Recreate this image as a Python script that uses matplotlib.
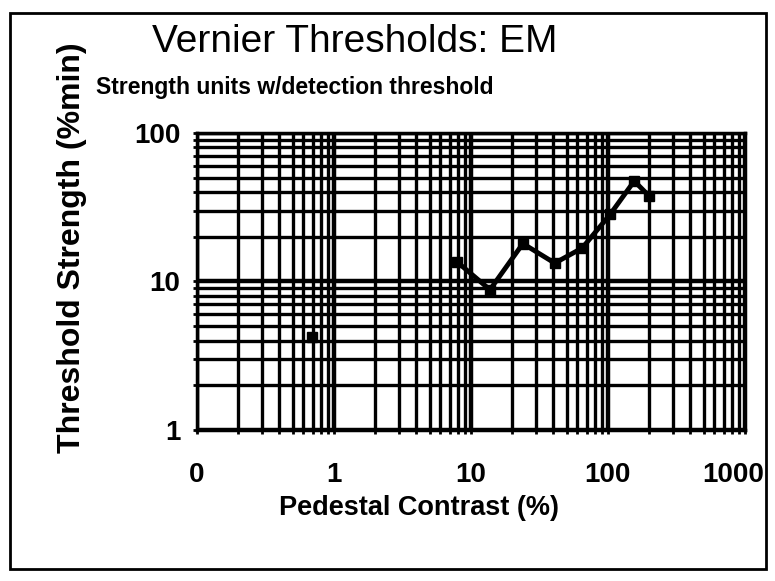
import matplotlib
matplotlib.use("Agg")
import matplotlib.pyplot as plt
import matplotlib.transforms as mtransforms
from matplotlib.ticker import FixedLocator, LogLocator, NullFormatter
from matplotlib.patches import Rectangle

plt.rcParams['font.family'] = ['Liberation Sans', 'DejaVu Sans']

# pedestal contrast (%) vs threshold strength (%min)
contrast = [7.9, 13.8, 24, 41, 65, 104, 156, 200]
threshold = [13.6, 8.8, 18, 13.3, 16.8, 28.3, 47.5, 37.7]
# detection threshold point, drawn alone
det_contrast = [0.69]
det_threshold = [4.2]

x_ticks = [0.1, 1, 10, 100, 1000]
x_labels = ["0", "1", "10", "100", "1000"]
y_ticks = [1, 10, 100]
y_labels = ["1", "10", "100"]

fig = plt.figure(figsize=(7.75, 5.81), dpi=100)
ax = fig.add_axes([0.254, 0.26, 0.707, 0.511])

ax.plot(contrast, threshold, color="black", lw=3.5, marker="s", ms=6.5, zorder=5)
ax.plot(det_contrast, det_threshold, color="black", ls="none", marker="s", ms=6.5, zorder=5)

ax.set_xscale("log")
ax.set_yscale("log")
ax.set_xlim(0.1, 1000)
ax.set_ylim(1, 100)

ax.xaxis.set_major_locator(FixedLocator(x_ticks))
ax.set_xticklabels(x_labels)
ax.yaxis.set_major_locator(FixedLocator(y_ticks))
ax.set_yticklabels(y_labels)
ax.xaxis.set_minor_locator(LogLocator(base=10, subs=range(2, 10)))
ax.yaxis.set_minor_locator(LogLocator(base=10, subs=range(2, 10)))
ax.xaxis.set_minor_formatter(NullFormatter())
ax.yaxis.set_minor_formatter(NullFormatter())

ax.grid(which="major", color="black", lw=3.2)
ax.grid(which="minor", color="black", lw=2.4)
for s in ax.spines.values():
    s.set_linewidth(2.5)
ax.tick_params(which="both", direction="inout", length=6, width=2, labelsize=20)
ax.tick_params(axis="x", pad=20)
ax.tick_params(axis="y", pad=9)
for lab in ax.get_xticklabels() + ax.get_yticklabels():
    lab.set_fontweight("bold")
# last x label sits a bit inside, as in the original
last = ax.get_xticklabels()[-1]
last.set_transform(last.get_transform() + mtransforms.ScaledTranslation(-8 / 72, 0, fig.dpi_scale_trans))

fig.text(419 / 775, 1 - 508 / 581, "Pedestal Contrast (%)", fontsize=19.5,
         fontweight="bold", ha="center", va="center")
fig.text(72 / 775, 1 - 248 / 581, "Threshold Strength (%min)", fontsize=23,
         fontweight="bold", ha="center", va="center", rotation=90)

fig.text(355 / 775, 1 - 42 / 581, "Vernier Thresholds: EM", fontsize=28, ha="center", va="center")
fig.text(96 / 775, 1 - 87 / 581, "Strength units w/detection threshold", fontsize=16.5,
         fontweight="bold", ha="left", va="center")

fig.patches.append(Rectangle((0.013, 0.02), 0.975, 0.958, transform=fig.transFigure,
                             fill=False, edgecolor="black", lw=2))

fig.savefig("out.png", dpi=100)
